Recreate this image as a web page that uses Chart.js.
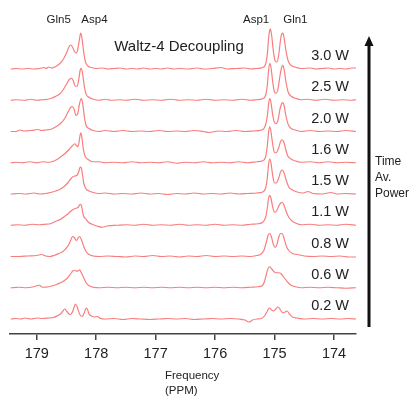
<!DOCTYPE html>
<html>
<head>
<meta charset="utf-8">
<title>Waltz-4 Decoupling</title>
<script src="https://cdn.jsdelivr.net/npm/chart.js@4.4.1/dist/chart.umd.min.js"></script>
<style>
  html, body { margin: 0; padding: 0; background: #fff; }
  #wrap { width: 410px; height: 396px; }
</style>
</head>
<body>
<div id="wrap"><canvas id="spectraChart" width="410" height="396"></canvas></div>
<script>
// spectra: [ppm, intensity above baseline], one per decoupling power
const powerLabels = ["0.2 W", "0.6 W", "0.8 W", "1.1 W", "1.5 W", "1.6 W", "2.0 W", "2.5 W", "3.0 W"];
const peakNames = ["Gln5", "Asp4", "Asp1", "Gln1"];
const peakLabelPpm = [178.63, 178.03, 175.31, 174.65];
const tickValues = [179, 178, 177, 176, 175, 174];

const trace02 = [[179.44,0],[179.35,0.5],[179.27,0],[179.2,1],[179.1,0],[179.0,1],[178.9,0.5],[178.8,1],[178.72,1.5],[178.66,3],[178.60,5],[178.56,8],[178.53,10],[178.50,8],[178.46,5],[178.43,4.5],[178.40,7],[178.37,12],[178.35,15],[178.32,12],[178.28,5],[178.24,2.5],[178.20,6],[178.17,11],[178.15,10],[178.12,5],[178.08,3],[178.03,2],[177.98,2.5],[177.93,0.5],[177.85,0],[177.7,0.5],[177.55,-0.5],[177.4,0.5],[177.25,0],[177.1,-0.5],[176.95,0],[176.8,0.5],[176.65,0],[176.5,0.5],[176.35,-0.5],[176.2,0],[176.05,0.5],[175.9,0],[175.75,0.5],[175.6,0],[175.5,-1],[175.43,-3],[175.37,-1],[175.3,0],[175.22,0.5],[175.17,3],[175.12,8],[175.09,11],[175.05,9],[175.02,8],[174.98,10],[174.94,12],[174.90,9],[174.86,6],[174.82,7],[174.79,8],[174.75,5],[174.70,2],[174.62,1],[174.5,0],[174.35,0.5],[174.2,0],[174.05,0.5],[173.9,0],[173.75,0.5],[173.63,0]];
const trace06 = [[179.44,0],[179.3,0.5],[179.18,0],[179.05,1],[178.96,2.5],[178.9,0.5],[178.8,1],[178.73,2],[178.66,3.5],[178.60,5],[178.54,7],[178.48,10],[178.43,14],[178.39,17],[178.36,17.5],[178.33,16.5],[178.30,17],[178.28,18],[178.25,15],[178.21,10],[178.17,5],[178.12,2],[178.05,0.5],[177.95,0],[177.8,0.5],[177.65,0],[177.5,0.5],[177.35,0],[177.2,0.5],[177.05,0],[176.9,0.5],[176.75,0],[176.6,0.5],[176.45,0],[176.3,0.5],[176.15,0],[176.0,0.5],[175.85,0],[175.7,0.5],[175.55,0],[175.4,0.5],[175.28,1],[175.21,2],[175.17,6],[175.14,13],[175.11,19],[175.08,21],[175.05,19],[175.01,16],[174.97,15],[174.93,15],[174.89,14],[174.85,11],[174.81,8],[174.77,5],[174.72,2.5],[174.65,1],[174.55,0],[174.4,0.5],[174.25,0],[174.1,0.5],[173.95,0],[173.8,-0.5],[173.63,0]];
const trace08 = [[179.44,0],[179.3,0],[179.15,0.5],[179.0,1],[178.92,2],[178.85,0.5],[178.78,0],[178.71,1],[178.63,3],[178.56,5],[178.51,8],[178.47,11],[178.43,16],[178.40,20],[178.37,19],[178.33,16],[178.30,19],[178.28,20],[178.25,17],[178.21,10],[178.17,5],[178.12,2],[178.05,0.5],[177.95,0],[177.8,0.5],[177.65,0],[177.5,-0.5],[177.35,0.5],[177.2,0],[177.05,1],[176.9,0],[176.75,0.5],[176.6,-0.5],[176.45,0.5],[176.3,0],[176.15,1],[176.0,0],[175.85,0.5],[175.7,0],[175.55,0.5],[175.4,0],[175.3,1],[175.24,2],[175.18,6],[175.14,14],[175.11,21],[175.08,23],[175.05,19],[175.02,12],[174.99,9],[174.96,12],[174.93,19],[174.90,23],[174.87,23],[174.84,18],[174.80,10],[174.76,6],[174.70,3],[174.62,2],[174.5,0.5],[174.35,0],[174.2,0.5],[174.05,0],[173.9,0.5],[173.75,-0.5],[173.63,-0.5]];
const trace11 = [[179.44,0],[179.32,0.5],[179.2,0],[179.08,1],[178.95,0.5],[178.85,1],[178.77,1.5],[178.68,4],[178.60,6],[178.53,9],[178.48,11],[178.43,14],[178.38,16],[178.34,17],[178.30,18],[178.27,21],[178.25,20],[178.23,14],[178.21,9],[178.17,6],[178.13,3],[178.07,1],[177.98,-1],[177.9,-2],[177.8,-0.5],[177.65,0],[177.5,0.5],[177.35,0],[177.2,1],[177.05,0],[176.9,0.5],[176.75,0],[176.6,1],[176.45,0],[176.3,0.5],[176.15,0],[176.0,1],[175.85,0],[175.7,0.5],[175.55,0],[175.4,1],[175.28,1.5],[175.2,3],[175.15,8],[175.12,18],[175.10,27],[175.08,30],[175.06,27],[175.03,18],[175.00,13],[174.97,14],[174.93,19],[174.90,22],[174.87,23],[174.84,20],[174.80,13],[174.76,8],[174.70,4],[174.64,2],[174.55,0.5],[174.4,1],[174.25,0],[174.1,0.5],[173.95,0],[173.8,1],[173.63,0]];
const trace15 = [[179.44,0],[179.3,0.5],[179.18,0],[179.05,1],[178.95,0],[178.85,0.5],[178.77,1.5],[178.68,3],[178.60,5],[178.53,8],[178.48,11],[178.43,15],[178.40,17],[178.36,18],[178.32,19],[178.29,23],[178.27,27],[178.25,26],[178.23,19],[178.21,11],[178.17,5],[178.12,3],[178.05,1.5],[177.95,0.5],[177.85,1],[177.7,0],[177.55,0.5],[177.4,0],[177.25,1],[177.1,0],[176.95,0.5],[176.8,-0.5],[176.65,0.5],[176.5,0],[176.35,1],[176.2,0],[176.05,0.5],[175.9,0],[175.75,1],[175.6,0],[175.45,0.5],[175.3,1],[175.2,2],[175.15,6],[175.12,17],[175.10,30],[175.08,35],[175.06,31],[175.03,18],[175.00,11],[174.97,11],[174.93,16],[174.90,22],[174.87,24],[174.84,21],[174.80,13],[174.76,7],[174.70,4],[174.62,2],[174.52,1],[174.44,2.5],[174.35,0.5],[174.2,0],[174.05,1.5],[173.95,0],[173.8,0.5],[173.63,0]];
const trace16 = [[179.44,0],[179.35,0.5],[179.25,0],[179.12,1],[179.0,0],[178.9,1],[178.8,0.5],[178.72,1.5],[178.64,4],[178.55,8],[178.46,13],[178.40,17],[178.36,19],[178.33,17],[178.31,16],[178.29,20],[178.27,28],[178.26,30],[178.24,25],[178.22,15],[178.19,7],[178.13,3],[178.05,1],[177.95,1],[177.85,0],[177.7,0.5],[177.55,0],[177.4,1],[177.25,0],[177.1,0.5],[176.95,0],[176.8,1],[176.65,-0.5],[176.5,0.5],[176.35,0],[176.2,1],[176.05,0],[175.9,0.5],[175.75,0],[175.6,1],[175.45,0],[175.3,1],[175.2,2],[175.15,6],[175.12,18],[175.10,31],[175.08,36],[175.06,31],[175.03,18],[175.00,10],[174.97,10],[174.93,15],[174.90,21],[174.87,23],[174.84,20],[174.81,13],[174.78,7],[174.73,4],[174.66,2],[174.55,0.5],[174.4,1],[174.25,0],[174.1,1],[173.95,0],[173.8,0.5],[173.63,0]];
const trace20 = [[179.44,0],[179.35,0],[179.28,1.5],[179.22,0.5],[179.1,1],[178.98,2],[178.92,1],[178.85,1.5],[178.75,2.5],[178.67,5],[178.6,8],[178.53,13],[178.47,20],[178.43,24],[178.40,25],[178.37,22],[178.34,16],[178.31,18],[178.28,28],[178.25,33],[178.23,29],[178.20,15],[178.17,6],[178.12,3],[178.05,1],[177.95,0],[177.85,1],[177.7,0],[177.55,1],[177.4,0],[177.25,0.5],[177.1,0],[176.95,1],[176.8,0],[176.65,0.5],[176.5,0],[176.35,1],[176.2,0],[176.1,-1],[175.95,0.5],[175.8,0],[175.65,1],[175.5,0],[175.35,0.5],[175.22,1.5],[175.16,5],[175.12,16],[175.10,28],[175.08,33],[175.06,29],[175.03,16],[175.00,9],[174.97,8],[174.94,12],[174.91,22],[174.88,28],[174.86,29],[174.84,26],[174.81,16],[174.77,7],[174.72,3],[174.65,1.5],[174.55,0],[174.4,1],[174.25,0],[174.1,0.5],[173.95,0],[173.8,1],[173.63,0]];
const trace25 = [[179.44,0],[179.35,0.5],[179.2,0],[179.1,1],[179.0,0],[178.9,0.5],[178.82,1],[178.75,2],[178.68,4],[178.62,6],[178.56,10],[178.50,16],[178.45,21],[178.42,22],[178.39,20],[178.35,14],[178.32,14],[178.29,22],[178.27,30],[178.25,32],[178.23,27],[178.20,14],[178.17,6],[178.12,3],[178.05,1],[177.95,0],[177.85,1],[177.75,0],[177.6,0.5],[177.5,0],[177.35,1],[177.2,0],[177.05,0.5],[176.9,0],[176.75,1],[176.6,0],[176.45,0.5],[176.3,0],[176.15,1],[176.0,0],[175.85,0.5],[175.7,0],[175.55,1],[175.4,0],[175.3,0.5],[175.2,1.5],[175.15,5],[175.12,16],[175.10,30],[175.08,37],[175.06,33],[175.03,18],[175.00,8],[174.97,7],[174.94,12],[174.91,24],[174.88,33],[174.86,35],[174.84,31],[174.81,19],[174.77,8],[174.72,4],[174.65,2],[174.55,0.5],[174.45,1],[174.3,0],[174.15,1],[174.0,0],[173.85,0.5],[173.7,0],[173.63,0.5]];
const trace30 = [[179.44,0],[179.35,0.5],[179.25,0],[179.15,0.5],[179.05,0],[178.95,0.5],[178.88,1.5],[178.84,0.5],[178.80,2],[178.74,1],[178.68,2.5],[178.62,5],[178.56,9],[178.50,16],[178.46,22],[178.43,24],[178.40,22],[178.36,17],[178.33,16],[178.30,23],[178.27,34],[178.26,36],[178.24,31],[178.21,17],[178.18,7],[178.14,3],[178.08,1.5],[178.0,0.5],[177.9,1],[177.8,0],[177.7,0.5],[177.6,1],[177.5,0],[177.4,0.5],[177.3,0],[177.2,1],[177.1,0],[177.0,0.5],[176.9,0],[176.8,1],[176.7,0],[176.6,0.5],[176.45,0],[176.3,1],[176.2,0],[176.05,0.5],[175.9,1.5],[175.8,0],[175.65,0.5],[175.5,1],[175.4,0],[175.3,0.5],[175.2,1.5],[175.15,5],[175.12,16],[175.10,31],[175.08,39],[175.07,40],[175.05,34],[175.02,18],[174.99,8],[174.96,7],[174.93,14],[174.90,29],[174.88,35],[174.86,36],[174.84,31],[174.81,19],[174.77,8],[174.73,4],[174.66,2],[174.55,0.5],[174.4,1],[174.3,0],[174.2,0.5],[174.1,1],[174.0,0],[173.9,0.5],[173.8,0],[173.7,1],[173.63,1]];

const traces = [trace02, trace06, trace08, trace11, trace15, trace16, trace20, trace25, trace30];

const FONT = "'Liberation Sans', Arial, Helvetica, sans-serif";
const LINE_COLOR = "rgb(248, 126, 126)";
const firstBaseline = 15;
const traceGap = 31.25;

Chart.defaults.font.family = FONT;

// labels, arrow and axis title drawn on top
const annotations = {
  id: "annotations",
  afterDraw(chart) {
    const { ctx, chartArea, scales } = chart;
    const x = scales.x, y = scales.y;
    ctx.save();
    ctx.fillStyle = "#222";

    ctx.font = "14.5px " + FONT;
    ctx.textAlign = "right";
    ctx.textBaseline = "middle";
    powerLabels.forEach((lbl, i) => {
      ctx.fillText(lbl, chartArea.right - 7, y.getPixelForValue(firstBaseline + i * traceGap + 13));
    });

    ctx.textAlign = "center";
    ctx.font = "15px " + FONT;
    ctx.fillText("Waltz-4 Decoupling", chartArea.left + 169, 47);

    ctx.font = "11.5px " + FONT;
    peakNames.forEach((name, i) => {
      ctx.fillText(name, x.getPixelForValue(peakLabelPpm[i]), 20);
    });

    ctx.textAlign = "left";
    ctx.fillText("Frequency", chartArea.left + 155, 376);
    ctx.fillText("(PPM)", chartArea.left + 155, 391);

    ctx.font = "12px " + FONT;
    const ax = chartArea.right + 13;
    ["Time", "Av.", "Power"].forEach((t, i) => ctx.fillText(t, ax + 6, 162 + i * 16));

    // arrow
    ctx.strokeStyle = "#111";
    ctx.fillStyle = "#111";
    ctx.lineWidth = 3;
    ctx.beginPath();
    ctx.moveTo(ax, 327);
    ctx.lineTo(ax, 44);
    ctx.stroke();
    ctx.beginPath();
    ctx.moveTo(ax, 36);
    ctx.lineTo(ax - 4.5, 46);
    ctx.lineTo(ax + 4.5, 46);
    ctx.closePath();
    ctx.fill();
    ctx.restore();
  }
};

new Chart(document.getElementById("spectraChart"), {
  type: "line",
  data: {
    datasets: traces.map((tr, i) => ({
      label: powerLabels[i],
      data: tr.map(([p, v]) => ({ x: p, y: v + firstBaseline + i * traceGap })),
      borderColor: LINE_COLOR,
      borderWidth: 1.2,
      pointRadius: 0,
      fill: false,
      cubicInterpolationMode: "monotone",
    })),
  },
  options: {
    responsive: false,
    animation: false,
    devicePixelRatio: 1,
    layout: { padding: { left: 10, right: 54, top: 10, bottom: 32 } },
    plugins: {
      legend: { display: false },
      tooltip: { enabled: false },
    },
    scales: {
      x: {
        type: "linear",
        reverse: true,
        min: 173.63,
        max: 179.45,
        afterBuildTicks: (scale) => {
          scale.ticks = tickValues.map((v) => ({ value: v }));
        },
        afterFit: (scale) => {
          // fixed axis band so the plot bottom sits at y = 334
          scale.height = 30;
        },
        ticks: {
          color: "#222",
          font: { size: 14.5 },
          padding: 5,
          maxRotation: 0,
          callback: (v) => String(v),
        },
        grid: {
          display: true,
          drawOnChartArea: false,
          drawTicks: true,
          tickLength: 6,
          color: "#444",
          lineWidth: 1.5,
        },
        border: { display: true, color: "#444", width: 1.5 },
      },
      y: {
        display: false,
        min: 0,
        max: 324,
      },
    },
  },
  plugins: [annotations],
});
</script>
</body>
</html>
